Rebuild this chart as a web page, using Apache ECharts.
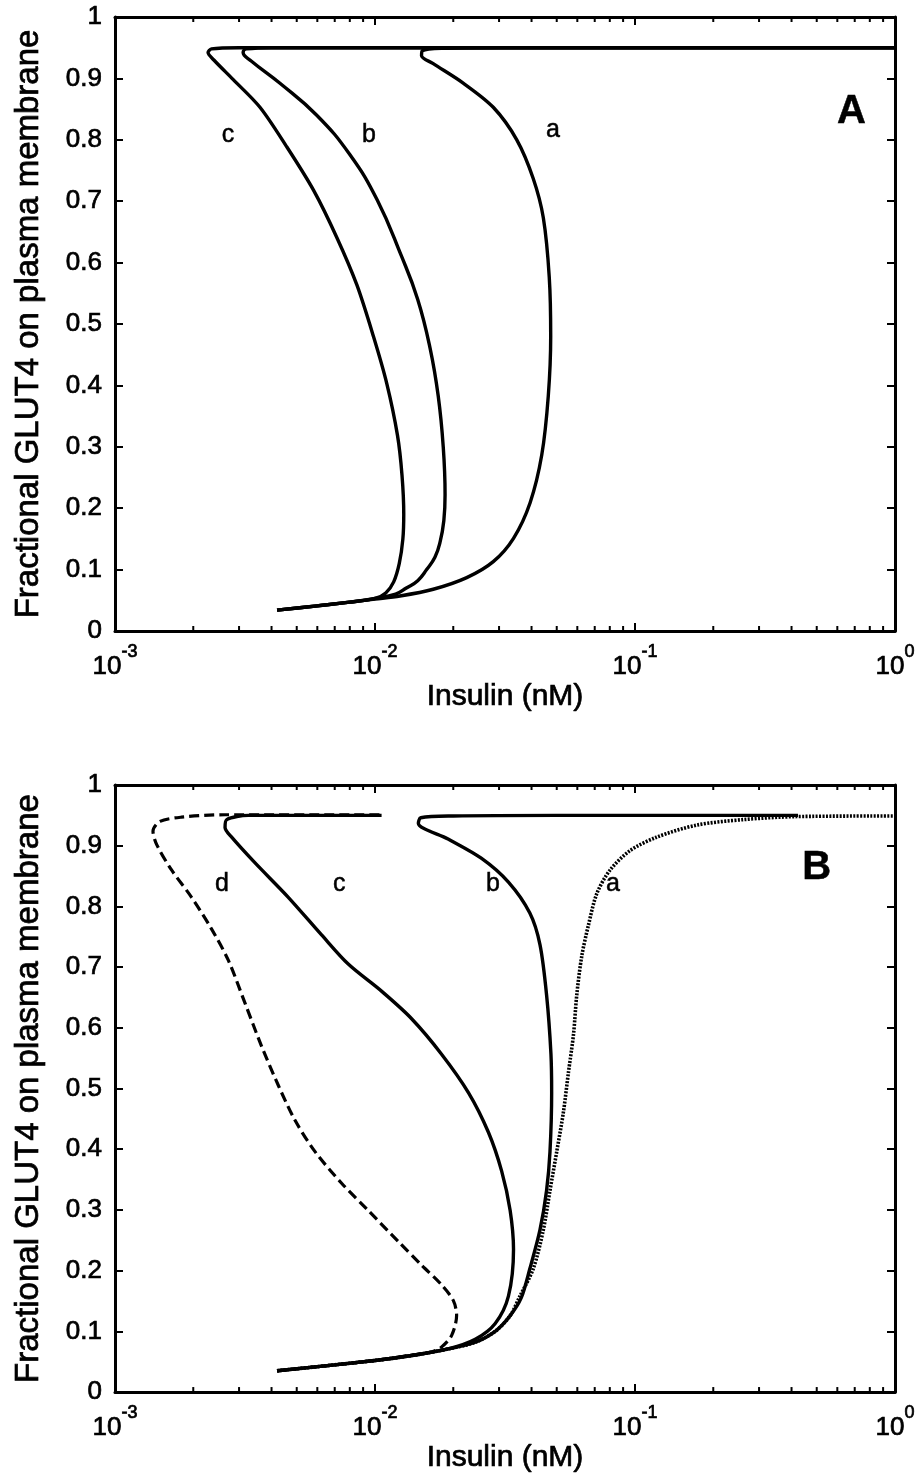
<!DOCTYPE html>
<html>
<head>
<meta charset="utf-8">
<script src="https://cdn.jsdelivr.net/npm/echarts@6.0.0/dist/echarts.min.js"></script>
<style>
html,body{margin:0;padding:0;background:#fff;}
#chart{width:919px;height:1474px;}
</style>
</head>
<body>
<div id="chart"></div>
<script>
// ---- data (insulin in nM, fractional GLUT4) ----
const xTickValues = [0.001, 0.01, 0.1, 1];
const xMinorTicks = [0.002,0.003,0.004,0.005,0.006,0.007,0.008,0.009,
                     0.02,0.03,0.04,0.05,0.06,0.07,0.08,0.09,
                     0.2,0.3,0.4,0.5,0.6,0.7,0.8,0.9];
const yTickLabels = ['0','0.1','0.2','0.3','0.4','0.5','0.6','0.7','0.8','0.9','1'];

// Panel A
const A_c = [[0.0042,0.034],[0.0060,0.041],[0.0080,0.047],[0.0100,0.053],[0.0110,0.062],[0.0118,0.080],[0.0124,0.110],[0.0128,0.150],[0.0129,0.190],[0.0127,0.254],[0.0122,0.319],[0.0111,0.403],[0.00986,0.480],[0.00851,0.564],[0.00713,0.641],[0.00580,0.718],[0.00457,0.789],[0.00361,0.853],[0.00285,0.898],[0.00240,0.930],[0.00228,0.942],[0.00235,0.948],[0.0030,0.950],[0.01,0.950],[1,0.950]];
const A_b = [[0.0042,0.034],[0.0060,0.041],[0.0080,0.047],[0.0100,0.053],[0.0120,0.060],[0.0132,0.070],[0.0146,0.082],[0.0158,0.100],[0.0170,0.120],[0.0178,0.145],[0.0184,0.180],[0.0186,0.222],[0.0183,0.300],[0.0175,0.383],[0.0163,0.460],[0.01460,0.540],[0.01260,0.612],[0.01020,0.702],[0.0080,0.776],[0.00597,0.840],[0.00431,0.892],[0.00335,0.928],[0.00311,0.942],[0.0032,0.948],[0.0040,0.950],[1,0.950]];
const A_a = [[0.0042,0.034],[0.0060,0.041],[0.0080,0.047],[0.0100,0.052],[0.01247,0.057],[0.01675,0.068],[0.02253,0.087],[0.0285,0.113],[0.0341,0.151],[0.0395,0.209],[0.0438,0.287],[0.0464,0.383],[0.0474,0.480],[0.0468,0.576],[0.0444,0.673],[0.0406,0.737],[0.0351,0.800],[0.0285,0.853],[0.0219,0.892],[0.01675,0.924],[0.0151,0.937],[0.0152,0.945],[0.018,0.949],[0.03,0.950],[1,0.950]];

// Panel B
const B_d = [[0.0042,0.035],[0.0100,0.052],[0.01343,0.060],[0.0165,0.066],[0.0180,0.074],[0.0197,0.093],[0.0206,0.126],[0.0200,0.151],[0.0180,0.177],[0.0151,0.209],[0.0123,0.248],[0.00942,0.299],[0.00744,0.344],[0.00588,0.396],[0.00492,0.448],[0.00425,0.505],[0.00366,0.570],[0.00316,0.641],[0.00273,0.711],[0.00235,0.763],[0.00197,0.815],[0.00165,0.860],[0.00145,0.901],[0.00140,0.924],[0.00149,0.940],[0.00180,0.947],[0.00265,0.951],[0.0106,0.951]];
const B_c = [[0.0042,0.035],[0.0100,0.052],[0.01425,0.061],[0.0191,0.071],[0.0243,0.087],[0.0290,0.113],[0.0326,0.158],[0.0341,0.235],[0.0331,0.299],[0.0307,0.364],[0.0273,0.428],[0.0229,0.493],[0.0180,0.557],[0.01383,0.615],[0.01062,0.660],[0.00789,0.705],[0.00623,0.753],[0.00464,0.815],[0.00345,0.872],[0.00281,0.914],[0.00265,0.930],[0.00269,0.943],[0.00326,0.950],[0.0106,0.950]];
const B_b = [[0.0042,0.035],[0.0100,0.052],[0.01425,0.061],[0.0191,0.071],[0.0243,0.082],[0.0290,0.100],[0.0330,0.125],[0.0365,0.155],[0.0394,0.203],[0.0431,0.267],[0.0457,0.332],[0.0471,0.396],[0.0478,0.493],[0.0475,0.557],[0.0457,0.654],[0.0431,0.737],[0.0394,0.789],[0.0326,0.840],[0.0257,0.879],[0.0191,0.911],[0.01468,0.937],[0.0150,0.946],[0.020,0.949],[0.05,0.950],[0.4236,0.950]];
const B_a = [[0.0042,0.035],[0.0100,0.052],[0.01425,0.061],[0.0191,0.071],[0.0243,0.082],[0.0290,0.100],[0.0330,0.125],[0.0361,0.158],[0.0406,0.203],[0.0444,0.267],[0.0471,0.332],[0.0500,0.396],[0.0530,0.460],[0.0554,0.525],[0.0580,0.589],[0.0597,0.654],[0.0624,0.718],[0.0662,0.769],[0.0713,0.821],[0.0802,0.860],[0.0958,0.892],[0.121,0.914],[0.173,0.934],[0.261,0.943],[0.419,0.948],[1.0,0.949]];

// curve letters (data coordinates)
const lettersA = [['c',0.00272,0.808],['b',0.00948,0.808],['a',0.0484,0.816]];
const lettersB = [['d',0.00258,0.836],['c',0.00728,0.836],['b',0.0284,0.836],['a',0.0822,0.836]];
const panelA = [['A',0.68,0.845]];
const panelB = [['B',0.50,0.863]];

// ---- chart ----
const FONT = 'Liberation Sans, Arial, Helvetica, sans-serif';
const BOLDEN = {textBorderColor:'#000', textBorderWidth:0.7};
const chart = echarts.init(document.getElementById('chart'), null, {renderer:'canvas'});

function xAxisPair(gi){
  const common = {
    type:'log', logBase:10, min:0.001, max:1, gridIndex:gi,
    splitLine:{show:false},
    axisLine:{show:true, onZero:false, lineStyle:{color:'#000', width:3}},
    axisTick:{show:true, inside:true, length:8, lineStyle:{color:'#000', width:2}},
  };
  return [
    Object.assign({}, common, {
      position:'bottom',
      name:'Insulin (nM)', nameLocation:'middle', nameGap:42,
      nameTextStyle:Object.assign({fontFamily:FONT, fontSize:30, lineHeight:30, color:'#000'}, BOLDEN),
      axisLabel:{
        show:true, margin:12, color:'#000', fontFamily:FONT,
        formatter:function(v){
          let e = Math.round(Math.log10(v));
          return '{b|10}{s|' + String(e) + '}';
        },
        rich:{
          b:Object.assign({fontSize:26, lineHeight:48, fontFamily:FONT, color:'#000', verticalAlign:'middle'}, BOLDEN),
          s:Object.assign({fontSize:18, lineHeight:18, fontFamily:FONT, color:'#000', verticalAlign:'top'}, BOLDEN)
        }
      }
    }),
    Object.assign({}, common, {position:'top', axisLabel:{show:false}})
  ];
}
function yAxisPair(gi){
  const common = {
    type:'value', min:0, max:1, interval:0.1, gridIndex:gi,
    splitLine:{show:false},
    axisLine:{show:true, onZero:false, lineStyle:{color:'#000', width:3}},
    axisTick:{show:true, inside:true, length:8, lineStyle:{color:'#000', width:2}},
  };
  return [
    Object.assign({}, common, {
      position:'left',
      name:'Fractional GLUT4 on plasma membrane', nameLocation:'middle', nameGap:70,
      nameTextStyle:Object.assign({fontFamily:FONT, fontSize:33, lineHeight:33, color:'#000'}, BOLDEN),
      axisLabel:Object.assign({show:true, margin:13, fontFamily:FONT, fontSize:26, color:'#000',
        formatter:function(v){ return yTickLabels[Math.round(v*10)]; }}, BOLDEN)
    }),
    Object.assign({}, common, {position:'right', axisLabel:{show:false}})
  ];
}

function curve(data, xi, yi, type, width, smooth){
  return {
    type:'line', data:data, xAxisIndex:xi, yAxisIndex:yi,
    symbol:'none', smooth:(smooth===undefined?0.3:smooth), silent:true, animation:false, clip:true,
    lineStyle:{color:'#000', width:width||3.4, type:type||'solid', cap:'butt', join:'round'}
  };
}
function minorTicks(xi, yi){
  return {
    type:'custom', xAxisIndex:xi, yAxisIndex:yi, silent:true, animation:false, clip:false, z:5,
    data: xMinorTicks.map(v => [v, 0]),
    renderItem:function(params, api){
      const v = api.value(0);
      const pb = api.coord([v, 0]);
      const pt = api.coord([v, 1]);
      return {type:'group', children:[
        {type:'line', shape:{x1:pb[0], y1:pb[1], x2:pb[0], y2:pb[1]-5}, style:{stroke:'#000', lineWidth:2}},
        {type:'line', shape:{x1:pt[0], y1:pt[1], x2:pt[0], y2:pt[1]+5}, style:{stroke:'#000', lineWidth:2}}
      ]};
    }
  };
}
function letters(list, xi, yi, size, weight, border){
  return {
    type:'scatter', xAxisIndex:xi, yAxisIndex:yi, silent:true, animation:false,
    symbol:'circle', symbolSize:1, itemStyle:{color:'#ffffff'},
    data: list.map(d => ({name:d[0], value:[d[1], d[2]]})),
    label:{show:true, position:'inside', formatter:'{b}', fontFamily:FONT, fontSize:size, fontWeight:weight,
           color:'#000000', opacity:1, textBorderColor:'#000000', textBorderWidth:border},
    z:6
  };
}

const xa = xAxisPair(0), xb = xAxisPair(1);
const ya = yAxisPair(0), yb = yAxisPair(1);

const option = {
  backgroundColor:'#fff',
  animation:false,
  grid:[
    {left:115, right:24, top:17, height:614, containLabel:false},
    {left:115, right:24, top:785, height:615, containLabel:false}
  ],
  xAxis:[xa[0], xa[1], xb[0], xb[1]],
  yAxis:[ya[0], ya[1], yb[0], yb[1]],
  series:[
    curve(A_c, 0, 0), curve(A_b, 0, 0, 'solid', 3.4, 0.45), curve(A_a, 0, 0),
    minorTicks(0, 0),
    letters(lettersA, 0, 0, 25, 'normal', 0.5),
    letters(panelA, 0, 0, 40, 'bold', 0.5),
    curve(B_a, 2, 2, [2, 1.4], 3.6),
    curve(B_d, 2, 2, [10, 5], 3.2),
    curve(B_c, 2, 2), curve(B_b, 2, 2),
    minorTicks(2, 2),
    letters(lettersB, 2, 2, 25, 'normal', 0.5),
    letters(panelB, 2, 2, 40, 'bold', 0.5)
  ]
};
chart.setOption(option);
</script>
</body>
</html>
